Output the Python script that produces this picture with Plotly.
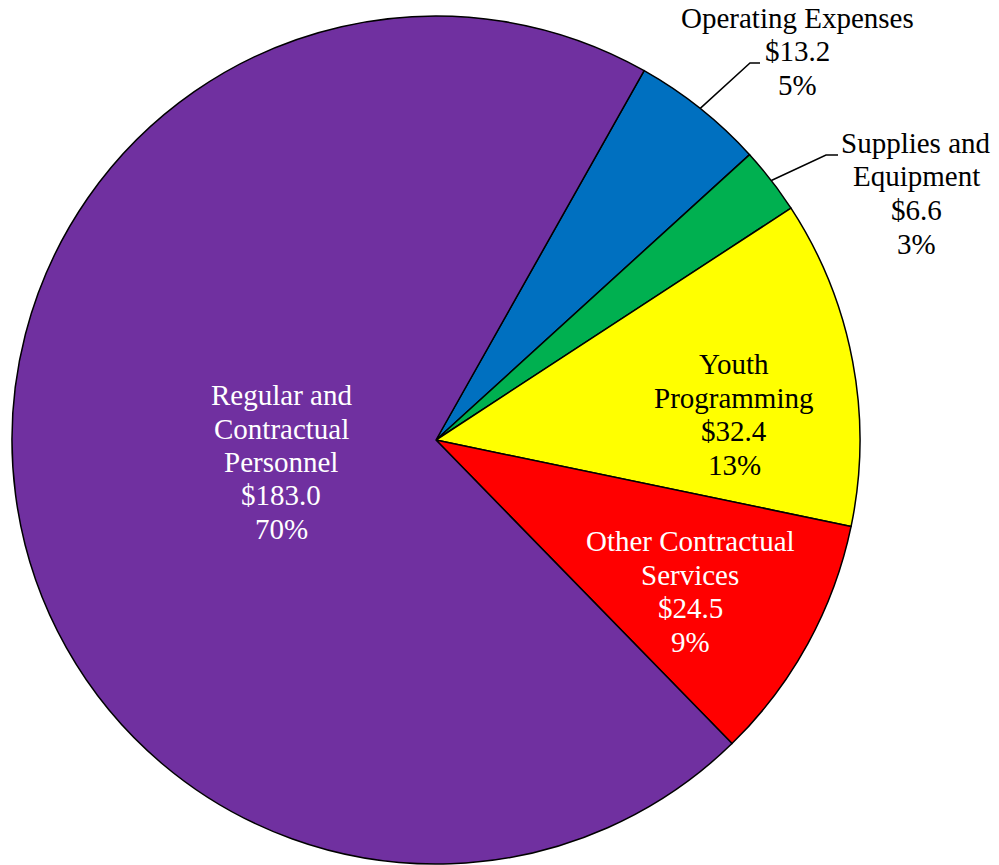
import math
import plotly.graph_objects as go

# Budget categories (millions of dollars)
categories = [
    "Operating Expenses",
    "Supplies and Equipment",
    "Youth Programming",
    "Other Contractual Services",
    "Regular and Contractual Personnel",
]
amounts = [13.2, 6.6, 32.4, 24.5, 183.0]
percent_labels = ["5%", "3%", "13%", "9%", "70%"]
label_lines = [
    ["Operating Expenses"],
    ["Supplies and", "Equipment"],
    ["Youth", "Programming"],
    ["Other Contractual", "Services"],
    ["Regular and", "Contractual", "Personnel"],
]

colors = ["#0070C0", "#00B050", "#FFFF00", "#FF0000", "#7030A0"]
text_colors = ["black", "black", "black", "white", "white"]

W, H = 999, 865
CX, CY, R = 436, 440, 424          # pie centre and radius in pixels
ROTATION = 29.4                    # start angle of the first slice, clockwise from 12 o'clock
FONT = "Liberation Serif, Times New Roman, serif"
FS = 29
LINE_H = 33.5

# Label block placement (centre x, baseline of first line) in pixels
label_pos = [(797, 29), (916, 154), (734, 375), (690, 552), (281, 406)]
# Leader line elbows for outside labels: (elbow point, end point)
leaders = {0: ((750, 63), (760, 63)), 1: ((826, 155), (838, 155))}


def px(x):
    return x / W


def py(y):
    return 1 - y / H


fig = go.Figure(
    go.Pie(
        labels=categories,
        values=amounts,
        sort=False,
        direction="clockwise",
        rotation=ROTATION,
        marker=dict(colors=colors, line=dict(color="black", width=1.5)),
        textinfo="none",
        hoverinfo="label+value",
        showlegend=False,
        domain=dict(x=[px(CX - R), px(CX + R)], y=[py(CY + R), py(CY - R)]),
    )
)

annotations = []
for i, name in enumerate(categories):
    lines = label_lines[i] + [f"${amounts[i]:.1f}", percent_labels[i]]
    x0, base0 = label_pos[i]
    for k, line in enumerate(lines):
        base = base0 + k * LINE_H
        annotations.append(
            dict(
                x=px(x0), y=py(base), xref="paper", yref="paper",
                text=line, showarrow=False,
                xanchor="center", yanchor="bottom", yshift=-7,
                font=dict(family=FONT, size=FS, color=text_colors[i]),
            )
        )

# Leader lines from slice mid-angle on the rim out to the outside labels
total = sum(amounts)
shapes = []
start = ROTATION
for i, v in enumerate(amounts):
    sweep = v / total * 360
    mid = math.radians(start + sweep / 2)
    start += sweep
    if i in leaders:
        rx = CX + R * math.sin(mid)
        ry = CY - R * math.cos(mid)
        (ex, ey), (tx, ty) = leaders[i]
        path = f"M {px(rx)} {py(ry)} L {px(ex)} {py(ey)} L {px(tx)} {py(ty)}"
        shapes.append(dict(type="path", path=path, xref="paper", yref="paper",
                           line=dict(color="black", width=1.5)))

fig.update_layout(
    width=W, height=H,
    margin=dict(l=0, r=0, t=0, b=0),
    paper_bgcolor="white",
    plot_bgcolor="white",
    annotations=annotations,
    shapes=shapes,
)

fig.write_html("out.html")
